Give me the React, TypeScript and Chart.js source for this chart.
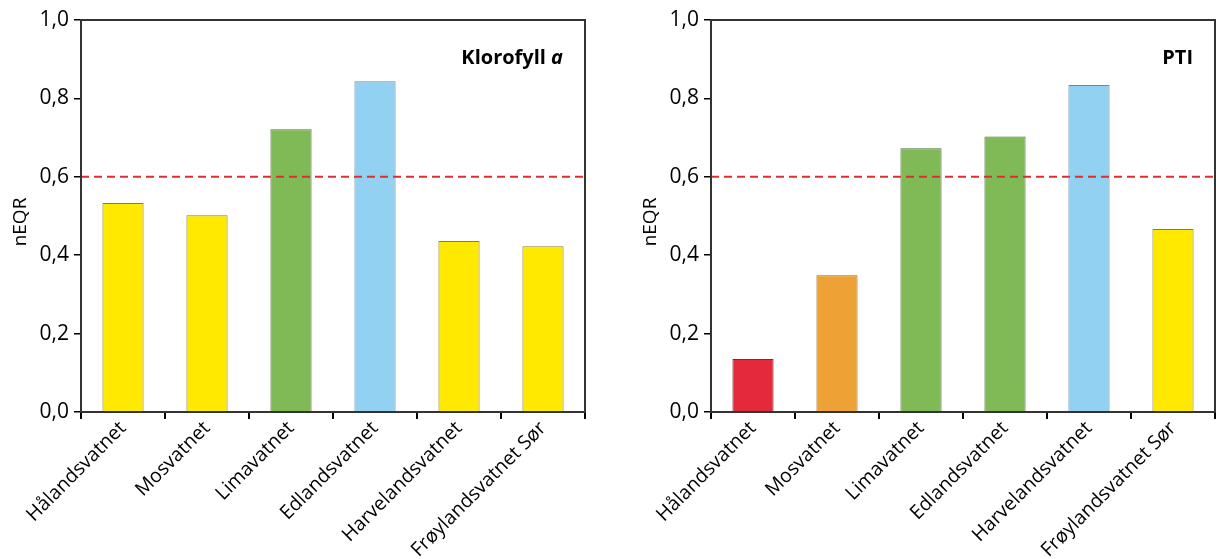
import React, { useEffect, useRef } from "react";
import { Chart, registerables } from "chart.js";

Chart.register(...registerables);

const categories = [
  "Hålandsvatnet",
  "Mosvatnet",
  "Limavatnet",
  "Edlandsvatnet",
  "Harvelandsvatnet",
  "Frøylandsvatnet Sør",
];
const klorofyllValues = [0.533, 0.502, 0.721, 0.844, 0.436, 0.423];
const ptiValues = [0.135, 0.349, 0.673, 0.703, 0.834, 0.467];

const YELLOW = "#FFE900";
const GREEN = "#80BA56";
const BLUE = "#92D1F1";
const RED = "#E3293A";
const ORANGE = "#EEA236";
const borderOf: Record<string, string> = {
  [YELLOW]: "#8C7F2A",
  [GREEN]: "#4F7236",
  [BLUE]: "#5E8AA3",
  [RED]: "#7C2A30",
  [ORANGE]: "#98682E",
};
const klorofyllColors = [YELLOW, YELLOW, GREEN, BLUE, YELLOW, YELLOW];
const ptiColors = [RED, ORANGE, GREEN, GREEN, BLUE, YELLOW];
const yTicks = [0, 0.2, 0.4, 0.6, 0.8, 1.0];
const threshold = 0.6;
const yAxisTitle = "nEQR";
const FONT = "'Open Sans', 'Noto Sans', sans-serif";

function makePlugin(titleParts: { text: string; italic: boolean }[]) {
  return {
    id: "extras",
    afterDatasetsDraw(chart: any) {
      const { ctx, chartArea, scales } = chart;
      const y = scales.y.getPixelForValue(threshold);
      ctx.save();
      ctx.strokeStyle = "#D9302F";
      ctx.lineWidth = 2;
      ctx.setLineDash([8, 5]);
      ctx.beginPath();
      ctx.moveTo(chartArea.left, y);
      ctx.lineTo(chartArea.right, y);
      ctx.stroke();
      ctx.setLineDash([]);
      // frame
      ctx.strokeStyle = "#333333";
      ctx.lineWidth = 2;
      ctx.strokeRect(chartArea.left, chartArea.top, chartArea.right - chartArea.left, chartArea.bottom - chartArea.top);
      // title
      ctx.fillStyle = "#000";
      ctx.textBaseline = "middle";
      const widths = titleParts.map((p) => {
        ctx.font = `${p.italic ? "italic " : ""}bold 20px ${FONT}`;
        return ctx.measureText(p.text).width;
      });
      const total = widths.reduce((a, b) => a + b, 0);
      let x = chartArea.right - 22 - total;
      const ty = chartArea.top + 38;
      titleParts.forEach((p, i) => {
        ctx.font = `${p.italic ? "italic " : ""}bold 20px ${FONT}`;
        ctx.textAlign = "left";
        ctx.fillText(p.text, x, ty);
        x += widths[i];
      });
      // y-axis title
      ctx.save();
      ctx.translate(chartArea.left - 60, (chartArea.top + chartArea.bottom) / 2 + 6);
      ctx.rotate(-Math.PI / 2);
      ctx.font = `19px ${FONT}`;
      ctx.textAlign = "center";
      ctx.textBaseline = "middle";
      ctx.fillText(yAxisTitle, 0, 0);
      ctx.restore();
      ctx.restore();
    },
  };
}

function BarPanel(props: {
  values: number[];
  colors: string[];
  width: number;
  left: number;
  yAxisWidth: number;
  padRight: number;
  title: { text: string; italic: boolean }[];
}) {
  const ref = useRef<HTMLCanvasElement>(null);
  useEffect(() => {
    const canvas = ref.current!;
    const chart = new Chart(canvas, {
      type: "bar",
      data: {
        labels: categories,
        datasets: [
          {
            data: props.values,
            backgroundColor: props.colors,
            borderColor: props.colors.map((c) => borderOf[c]),
            borderWidth: 1,
            barPercentage: 0.49,
            categoryPercentage: 1,
          },
        ],
      },
      options: {
        responsive: false,
        animation: false,
        devicePixelRatio: 1,
        layout: { padding: { top: 20, right: props.padRight, left: 0, bottom: 0 } },
        plugins: { legend: { display: false }, tooltip: { enabled: false } },
        scales: {
          x: {
            afterFit: (s: any) => {
              s.height = 559 - 412;
            },
            grid: {
              offset: true,
              drawOnChartArea: false,
              drawTicks: true,
              tickLength: 7,
              color: "#000",
              lineWidth: 2,
            },
            border: { display: true, color: "#000", width: 2 },
            ticks: {
              minRotation: 45,
              maxRotation: 45,
              padding: -2,
              color: "#000",
              font: { family: FONT, size: 19.5 },
              autoSkip: false,
            },
          },
          y: {
            min: 0,
            max: 1,
            afterFit: (s: any) => {
              s.width = props.yAxisWidth;
            },
            afterBuildTicks: (s: any) => {
              s.ticks = yTicks.map((v) => ({ value: v }));
            },
            grid: {
              drawOnChartArea: false,
              drawTicks: true,
              tickLength: 7,
              color: "#000",
              lineWidth: 1.5,
            },
            border: { display: true, color: "#000", width: 2 },
            ticks: {
              padding: 5,
              color: "#000",
              font: { family: FONT, size: 21 },
              callback: (v: any) => Number(v).toFixed(1).replace(".", ","),
            },
          },
        },
      },
      plugins: [makePlugin(props.title)],
    });
    return () => chart.destroy();
  }, []);
  return (
    <canvas
      ref={ref}
      width={props.width}
      height={559}
      style={{ position: "absolute", left: props.left, top: 0, width: props.width, height: 559 }}
    />
  );
}

export default function App() {
  return (
    <div style={{ position: "fixed", left: 0, top: 0, width: 1216, height: 559, background: "#fff" }}>
      <BarPanel
        values={klorofyllValues}
        colors={klorofyllColors}
        width={600}
        left={0}
        yAxisWidth={81}
        padRight={15}
        title={[
          { text: "Klorofyll ", italic: false },
          { text: "a", italic: true },
        ]}
      />
      <BarPanel
        values={ptiValues}
        colors={ptiColors}
        width={596}
        left={620}
        yAxisWidth={91}
        padRight={1}
        title={[{ text: "PTI", italic: false }]}
      />
    </div>
  );
}
